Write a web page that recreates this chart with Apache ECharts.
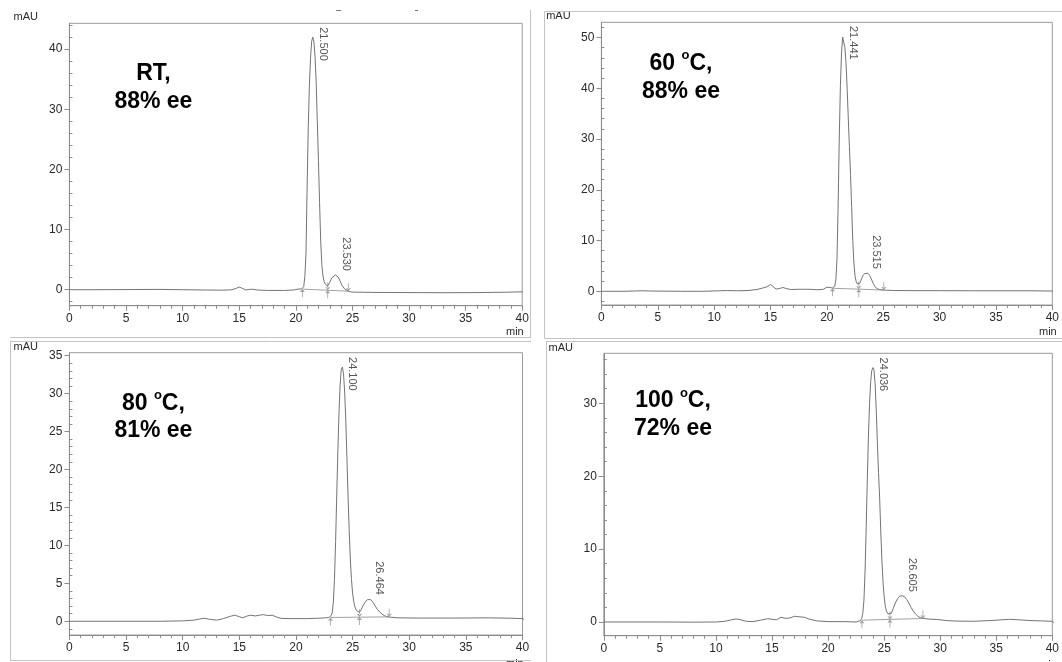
<!DOCTYPE html>
<html>
<head>
<meta charset="utf-8">
<script src="https://cdn.jsdelivr.net/npm/echarts@6/dist/echarts.min.js"></script>
<style>
html,body{margin:0;padding:0;background:#fff;}
#c{width:1062px;height:662px;}
</style>
</head>
<body>
<div id="c"></div>
<script>
// ---------------- DATA ----------------
const xTicks = [0, 5, 10, 15, 20, 25, 30, 35, 40];
const p1YTicks = [0, 10, 20, 30, 40];
const p2YTicks = [0, 10, 20, 30, 40, 50];
const p3YTicks = [0, 5, 10, 15, 20, 25, 30, 35];
const p4YTicks = [0, 10, 20, 30];

// Panel 1: RT
const p1Time = [0,2,5,8,10,12,13.5,14.3,14.7,15.0,15.3,15.6,15.9,16.2,16.6,17.5,19,19.8,20.2,20.5,20.6,20.7,20.8,20.9,21.0,21.1,21.2,21.3,21.4,21.5,21.6,21.7,21.8,21.9,22.0,22.1,22.2,22.3,22.4,22.5,22.6,22.7,22.8,22.9,23.0,23.1,23.2,23.3,23.5,23.6,23.75,23.9,24.0,24.1,24.2,24.35,24.5,24.7,25.0,27,30,33,36,38.5,40,40.3,40.7];
const p1Signal = [0,0,0.02,0.05,0,-0.05,-0.08,-0.02,0.2,0.45,0.2,-0.05,0.05,0.08,-0.05,-0.12,-0.12,-0.05,0.1,0.12,0.2,0.5,2.2,6.0,17,27,34,38.5,41.3,42,41.2,38.8,34.5,28,21.5,14.5,8.0,4.2,2.3,1.4,0.95,0.7,0.6,0.85,1.25,1.65,2.0,2.3,2.45,2.4,2.1,1.5,1.05,0.65,0.35,0.05,-0.15,-0.3,-0.4,-0.45,-0.48,-0.5,-0.48,-0.42,-0.35,-0.6,-1.2];
const p1PeakTimes = [21.5, 23.53];
const p1PeakHeights = [42, 2.45];
const p1PeakLabels = ['21.500', '23.530'];
const p1BaseTimes = [20.58, 22.82, 24.64];
const p1BaseLevels = [0.1, -0.08, -0.25];
const p1Note = ['RT,', '88% ee'];

// Panel 2: 60 oC
const p2Time = [0,2,3.5,4.5,7,9,10.5,11.2,12,13,13.8,14.4,14.7,15.0,15.3,15.5,15.8,16.1,16.4,16.8,17.5,18.5,19.2,19.7,20.0,20.3,20.5,20.6,20.7,20.8,20.9,21.0,21.1,21.2,21.3,21.4,21.45,21.5,21.6,21.7,21.8,21.9,22.0,22.1,22.2,22.3,22.4,22.5,22.6,22.7,22.8,22.9,23.0,23.1,23.2,23.35,23.5,23.65,23.8,23.95,24.1,24.25,24.4,24.6,24.8,25.0,26,28,30,33,36,38,40,40.3,40.6];
const p2Signal = [0,0,0.1,0.05,0,0,0.1,0.15,0.1,0.15,0.35,0.7,0.9,1.35,0.8,0.45,0.55,0.75,0.55,0.35,0.4,0.4,0.3,0.4,0.8,0.75,0.65,0.65,1.0,2.3,6.5,17,30,40.5,47,50.1,50.3,50.0,48,45,40,34,28.5,23,16.5,10,5.5,3.0,1.9,1.45,1.3,1.5,2.0,2.6,3.1,3.5,3.65,3.55,3.1,2.4,1.6,1.0,0.6,0.4,0.3,0.25,0.15,0.12,0.12,0.1,0.1,0.1,0.05,-0.3,-0.9];
const p2PeakTimes = [21.441, 23.515];
const p2PeakHeights = [50.3, 3.65];
const p2PeakLabels = ['21.441', '23.515'];
const p2BaseTimes = [20.5, 22.83, 25.05];
const p2BaseLevels = [0.6, 0.42, 0.25];
const p2Note = ['60 °C,', '88% ee'];

// Panel 3: 80 oC
const p3Time = [0,4,8,10,11,11.5,11.9,12.4,13.0,13.6,14.2,14.6,15.0,15.3,15.7,16.0,16.4,16.8,17.1,17.5,17.9,18.3,18.7,19.5,21,22,22.6,22.9,23.0,23.1,23.2,23.3,23.4,23.5,23.6,23.7,23.8,23.9,24.0,24.1,24.2,24.3,24.4,24.5,24.6,24.7,24.8,24.9,25.0,25.1,25.2,25.35,25.5,25.6,25.75,25.9,26.1,26.3,26.45,26.6,26.8,27.0,27.2,27.4,27.6,27.8,28.0,28.25,29,31,34,37,39,40,40.3,40.7];
const p3Signal = [0,0,0,0.05,0.15,0.3,0.4,0.25,0.15,0.35,0.65,0.8,0.6,0.45,0.7,0.8,0.7,0.8,0.88,0.75,0.8,0.55,0.38,0.35,0.35,0.4,0.45,0.5,0.55,0.75,1.1,2.5,5.5,10.5,16.5,22.5,27.5,31.2,33.2,33.5,32.6,30.2,26.5,21.5,16.5,12,8.2,5.5,3.7,2.6,1.9,1.4,1.2,1.2,1.5,2.0,2.5,2.85,2.95,2.85,2.5,2.0,1.55,1.2,0.95,0.75,0.62,0.55,0.45,0.42,0.42,0.45,0.4,0.35,0.1,-0.5];
const p3PeakTimes = [24.1, 26.464];
const p3PeakHeights = [33.5, 2.95];
const p3PeakLabels = ['24.100', '26.464'];
const p3BaseTimes = [23.05, 25.6, 28.23];
const p3BaseLevels = [0.5, 0.55, 0.58];
const p3Note = ['80 °C,', '81% ee'];

// Panel 4: 100 oC
const p4Time = [0,5,8,10,10.8,11.4,11.8,12.2,12.7,13.3,14.0,14.6,15.1,15.4,15.8,16.2,16.6,17.0,17.5,17.9,18.3,19.0,20.0,21.5,22.5,22.9,23.0,23.1,23.2,23.3,23.4,23.5,23.6,23.7,23.8,23.9,24.0,24.1,24.2,24.3,24.4,24.5,24.6,24.7,24.8,24.9,25.0,25.1,25.2,25.35,25.5,25.65,25.8,26.0,26.2,26.4,26.6,26.8,27.0,27.2,27.4,27.6,27.8,28.0,28.2,28.45,29,29.7,30.5,31.5,33,34.5,35.5,36.2,37,38,39,40,40.3,40.5];
const p4Signal = [0,0,-0.02,0,0.1,0.3,0.42,0.3,0.1,0.05,0.25,0.45,0.35,0.3,0.65,0.5,0.55,0.78,0.7,0.65,0.4,0.15,0.05,0.05,0,0.2,0.5,1.2,3.0,7.0,13.0,19.5,25.5,30.0,33.0,34.5,34.9,34.5,32.5,29.0,24.5,20.5,17.0,12.5,8.5,5.5,3.5,2.2,1.5,1.1,1.0,1.2,1.8,2.6,3.2,3.55,3.6,3.5,3.1,2.6,2.0,1.5,1.1,0.8,0.6,0.5,0.4,0.35,0.2,0.12,0.1,0.2,0.3,0.37,0.3,0.2,0.15,0.1,-0.3,-0.9];
const p4PeakTimes = [24.036, 26.605];
const p4PeakHeights = [34.9, 3.6];
const p4PeakLabels = ['24.036', '26.605'];
const p4BaseTimes = [23.02, 25.52, 28.46];
const p4BaseLevels = [0.25, 0.35, 0.48];
const p4Note = ['100 °C,', '72% ee'];

// ---------------- LAYOUT / STYLE ----------------
const FONT = "'Liberation Sans', Arial, Helvetica, sans-serif";
const TRACE = '#747474';
const AXIS = '#8c8c8c';
const TXT = '#2a2a2a';

const panels = [
  {time: p1Time, signal: p1Signal, pt: p1PeakTimes, ph: p1PeakHeights, pl: p1PeakLabels, bt: p1BaseTimes, bl: p1BaseLevels, note: p1Note, yTicks: p1YTicks,
   g: {left: 69.4, top: 23.3, width: 452.8, height: 282.4}, yMin: -2.66, yMax: 44.3, minorStep: 2,
   noteX: 153.4, noteY: [73.4, 101.7], mauX: 13.5, mauY: 17.3, minX: 506, minY: 332},
  {time: p2Time, signal: p2Signal, pt: p2PeakTimes, ph: p2PeakHeights, pl: p2PeakLabels, bt: p2BaseTimes, bl: p2BaseLevels, note: p2Note, yTicks: p2YTicks,
   g: {left: 601.4, top: 22.3, width: 454.5, height: 282.7}, yMin: -2.70, yMax: 53.0, minorStep: 2,
   noteX: 681, noteY: [63.4, 91.7], mauX: 546.2, mauY: 16, minX: 1039, minY: 332},
  {time: p3Time, signal: p3Signal, pt: p3PeakTimes, ph: p3PeakHeights, pl: p3PeakLabels, bt: p3BaseTimes, bl: p3BaseLevels, note: p3Note, yTicks: p3YTicks,
   g: {left: 69.4, top: 352.7, width: 453.1, height: 282.3}, yMin: -1.81, yMax: 35.39, minorStep: 1,
   noteX: 153.4, noteY: [403.4, 430.7], mauX: 13.5, mauY: 347, minX: 506, minY: 664},
  {time: p4Time, signal: p4Signal, pt: p4PeakTimes, ph: p4PeakHeights, pl: p4PeakLabels, bt: p4BaseTimes, bl: p4BaseLevels, note: p4Note, yTicks: p4YTicks,
   g: {left: 603.8, top: 353.3, width: 453.8, height: 282.4}, yMin: -1.88, yMax: 36.86, minorStep: 2,
   noteX: 673, noteY: [401.1, 429.1], mauX: 548.6, mauY: 348, minX: 1039, minY: 665}
];

function minorTicks(lo, hi, step, majors) {
  const out = [];
  const k0 = Math.ceil(lo / step), k1 = Math.floor(hi / step);
  for (let k = k0; k <= k1; k++) {
    const v = Math.round(k * step * 1000) / 1000;
    if (majors.indexOf(v) < 0) out.push(v);
  }
  return out;
}

const upArrow = 'path://M2.1,3 L2.9,3 L2.9,12 L2.1,12 Z M0,4.5 L2.5,0 L5,4.5 Z';
const downArrow = 'path://M2.1,0 L2.9,0 L2.9,9 L2.1,9 Z M0,7.5 L2.5,12 L5,7.5 Z';

const grid = [], xAxis = [], yAxis = [], series = [], graphic = [];

panels.forEach((p, i) => {
  grid.push(Object.assign({show: true, borderColor: '#9a9a9a', borderWidth: 1, backgroundColor: 'transparent'}, p.g));
  xAxis.push({
    type: 'value', gridIndex: i, min: xTicks[0], max: xTicks[xTicks.length - 1], interval: xTicks[1] - xTicks[0],
    axisLine: {show: true, onZero: false, lineStyle: {color: AXIS, width: 1}},
    axisTick: {show: true, length: 5, lineStyle: {color: AXIS}},
    minorTick: {show: true, splitNumber: 5, length: 3, lineStyle: {color: AXIS}},
    axisLabel: {margin: 7, fontSize: 12, color: TXT, fontFamily: FONT},
    splitLine: {show: false}, minorSplitLine: {show: false}
  });
  yAxis.push({
    type: 'value', gridIndex: i, min: p.yMin, max: p.yMax,
    axisLine: {show: true, onZero: false, lineStyle: {color: AXIS, width: 1}},
    axisTick: {show: true, length: 5, customValues: p.yTicks, lineStyle: {color: AXIS}},
    axisLabel: {customValues: p.yTicks, margin: 7, fontSize: 12, color: TXT, fontFamily: FONT},
    splitLine: {show: false}
  });
  yAxis.push({
    type: 'value', gridIndex: i, min: p.yMin, max: p.yMax,
    axisLine: {show: false},
    axisTick: {show: true, length: 3, customValues: minorTicks(p.yMin, p.yMax, p.minorStep, p.yTicks), lineStyle: {color: AXIS}},
    axisLabel: {show: false},
    splitLine: {show: false}
  });
  const yi = 2 * i;
  // chromatogram trace
  series.push({
    type: 'line', xAxisIndex: i, yAxisIndex: yi, symbol: 'none', clip: false, silent: true,
    data: p.time.map((t, k) => [t, p.signal[k]]),
    lineStyle: {color: TRACE, width: 1}
  });
  // integration baseline
  series.push({
    type: 'line', xAxisIndex: i, yAxisIndex: yi, symbol: 'none', silent: true,
    data: [[p.bt[0], p.bl[0]], [p.bt[2], p.bl[2]]],
    lineStyle: {color: '#8a8a8a', width: 0.8}
  });
  // start / valley markers (from below)
  series.push({
    type: 'scatter', xAxisIndex: i, yAxisIndex: yi, silent: true,
    symbol: upArrow, symbolSize: [5, 8], symbolOffset: [0, 4],
    itemStyle: {color: '#8a8a8a'},
    data: [[p.bt[0], p.bl[0]], [p.bt[1], p.bl[1]]]
  });
  // valley / end markers (from above)
  series.push({
    type: 'scatter', xAxisIndex: i, yAxisIndex: yi, silent: true,
    symbol: downArrow, symbolSize: [5, 8], symbolOffset: [0, -4],
    itemStyle: {color: '#8a8a8a'},
    data: [[p.bt[1], p.bl[1]], [p.bt[2], p.bl[2]]]
  });
  // retention time labels
  series.push({
    type: 'scatter', xAxisIndex: i, yAxisIndex: yi, silent: true,
    symbolSize: 2, itemStyle: {color: 'rgba(0,0,0,0)'},
    label: {show: true, rotate: -90, formatter: '{b}', verticalAlign: 'middle',
            fontSize: 11, color: TXT, fontFamily: FONT},
    data: p.pt.map((t, k) => ({
      name: p.pl[k], value: [t, p.ph[k]],
      label: k === 0 ? {position: [11, -9], align: 'left'} : {position: [11, -3], align: 'right'}
    }))
  });

  // annotation text
  p.note.forEach((line, li) => {
    let txt;
    if (line.indexOf('°') >= 0) {
      const parts = line.split('°');
      txt = '{a|' + parts[0] + '}{s|o}{a|' + parts[1] + '}';
    } else {
      txt = '{a|' + line + '}';
    }
    graphic.push({
      type: 'text', x: p.noteX, y: p.noteY[li], silent: true,
      style: {
        text: txt, align: 'center', verticalAlign: 'middle',
        rich: {
          a: {fontSize: 23, fontWeight: 'bold', fontFamily: FONT, fill: '#000', lineHeight: 28},
          s: {fontSize: 13, fontWeight: 'bold', fontFamily: FONT, fill: '#000', lineHeight: 16, verticalAlign: 'top'}
        }
      }
    });
  });
  graphic.push({type: 'text', x: p.mauX, y: p.mauY, silent: true,
    style: {text: 'mAU', fontSize: 11, fontFamily: FONT, fill: TXT, align: 'left', verticalAlign: 'middle'}});
  graphic.push({type: 'text', x: p.minX, y: p.minY, silent: true,
    style: {text: 'min', fontSize: 11, fontFamily: FONT, fill: TXT, align: 'left', verticalAlign: 'middle'}});
});

// screenshot frames
const FR = '#c4c4c4';
function hline(x1, x2, y) { graphic.push({type: 'line', silent: true, shape: {x1: x1, y1: y, x2: x2, y2: y}, style: {stroke: FR, lineWidth: 1}}); }
function vline(x, y1, y2) { graphic.push({type: 'line', silent: true, shape: {x1: x, y1: y1, x2: x, y2: y2}, style: {stroke: FR, lineWidth: 1}}); }
hline(10, 531, 337.5); vline(530.5, 10, 337.5);
hline(544.5, 1062, 11.5); vline(544.5, 11.5, 338.5); hline(544.5, 1062, 338.5);
hline(10, 531, 341.5); vline(10.5, 341.5, 661); hline(10, 531, 660.5);
hline(546, 1062, 341.5); vline(546.5, 341.5, 662);
// small marks at top of first panel
graphic.push({type: 'line', silent: true, shape: {x1: 336, y1: 10.5, x2: 341, y2: 10.5}, style: {stroke: '#777', lineWidth: 1}});
graphic.push({type: 'line', silent: true, shape: {x1: 415, y1: 10.5, x2: 418, y2: 10.5}, style: {stroke: '#777', lineWidth: 1}});

const chart = echarts.init(document.getElementById('c'), null, {renderer: 'canvas'});
chart.setOption({
  animation: false,
  backgroundColor: '#ffffff',
  grid: grid, xAxis: xAxis, yAxis: yAxis, series: series, graphic: graphic
});
</script>
</body>
</html>
